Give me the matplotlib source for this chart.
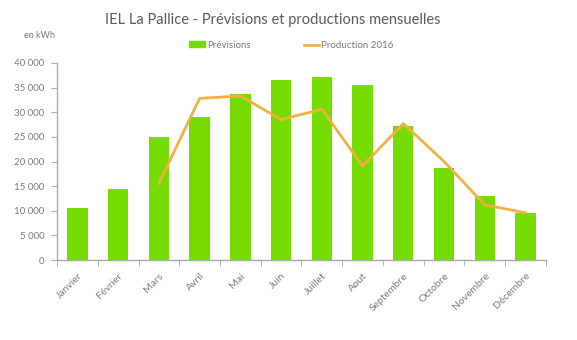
import matplotlib.pyplot as plt
import numpy as np
from matplotlib.ticker import FuncFormatter, FixedLocator
from matplotlib.patches import Patch
from matplotlib.lines import Line2D

mois = ['Janvier', 'Février', 'Mars', 'Avril', 'Mai', 'Juin', 'Juillet',
        'Aout', 'Septembre', 'Octobre', 'Novembre', 'Décembre']
previsions = [10500, 14500, 25000, 29000, 33700, 36600, 37200,
              35500, 27300, 18600, 13100, 9600]
production_2016 = [None, None, 15600, 32800, 33300, 28500, 30600,
                   19100, 27700, 20000, 11200, 9600]

plt.rcParams['font.family'] = ['Lato', 'DejaVu Sans']
grey = '#7a7a7a'

fig = plt.figure(figsize=(5.77, 3.4), dpi=100)
ax = fig.add_axes([0.099, 0.235, 0.847, 0.58])

x = np.arange(len(mois))
ax.bar(x, previsions, width=0.5, color='#76dc00', zorder=2)
prod = np.array([np.nan if v is None else v for v in production_2016], dtype=float)
ax.plot(x, prod, color='#f0b143', lw=2, zorder=3)

ax.set_xlim(-0.5, len(mois) - 0.5)
ax.set_ylim(0, 40000)
ax.set_yticks(np.arange(0, 40001, 5000))
ax.yaxis.set_major_formatter(FuncFormatter(lambda v, p: f'{int(v):,}'.replace(',', ' ')))

ax.set_xticks(x)
ax.set_xticklabels(mois, rotation=45, ha='right', rotation_mode='anchor')
ax.xaxis.set_minor_locator(FixedLocator(np.arange(-0.5, len(mois), 1)))
ax.tick_params(axis='x', which='major', length=0, pad=8, labelsize=7.5, labelcolor=grey)
ax.tick_params(axis='x', which='minor', length=4, color='#aaaaaa', direction='out')
ax.tick_params(axis='y', length=4, color='#aaaaaa', labelsize=7, labelcolor=grey, pad=5)

for s in ['top', 'right']:
    ax.spines[s].set_visible(False)
for s in ['left', 'bottom']:
    ax.spines[s].set_color('#aaaaaa')
    ax.spines[s].set_linewidth(1)

fig.text(0.472, 0.94, 'IEL La Pallice - Prévisions et productions mensuelles',
         ha='center', va='center', fontsize=10.5, color='#5a5a5a')
fig.text(0.095, 0.895, 'en kWh', ha='right', va='center', fontsize=6.5, color=grey)

handles = [Patch(color='#76dc00'), Line2D([0], [0], color='#f0b143', lw=2)]
leg = fig.legend(handles, ['Prévisions', 'Production 2016'], loc='center',
                 bbox_to_anchor=(0.505, 0.867), ncol=2, frameon=False, fontsize=7,
                 handlelength=1.6, handleheight=0.5, handletextpad=0.2, columnspacing=5.5)
for t in leg.get_texts():
    t.set_color(grey)

fig.savefig('out.png', dpi=100)
